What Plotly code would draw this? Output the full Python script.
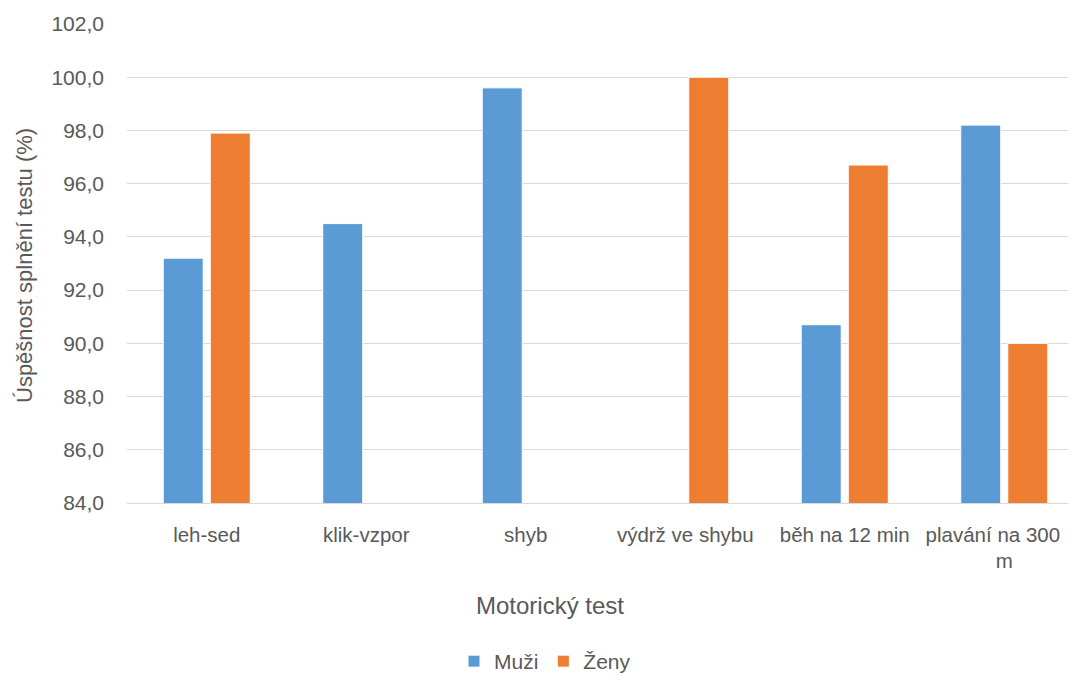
import plotly.graph_objects as go

categories = ["leh-sed", "klik-vzpor", "shyb", "výdrž ve shybu", "běh na 12 min", "plavání na 300 m"]
# display labels wrapped as in the reference (last one nudged inside the picture edge)
tick_labels = ["leh-sed", "klik-vzpor", "shyb", "výdrž ve shybu", "běh na 12 min",
               "plavání na 300" + "\u00a0" * 4 + "<br>m"]
muzi = [93.2, 94.5, 99.6, None, 90.7, 98.2]
zeny = [97.9, None, None, 100.0, 96.7, 90.0]
y_ticks = [84, 86, 88, 90, 92, 94, 96, 98, 100, 102]

FONT = "Liberation Sans"
TXT = "#595959"

# page body has an 8px margin; figure is sized so it ends at the viewport edge
OFF = 8
W, H = 1076 - OFF, 682 - OFF
L, R, T, B = 127 - OFF, 0, 24 - OFF, 179
PW, PH = W - L - R, H - T - B

# the reference plot area runs past the right edge of the picture
CAT_W = 159.5
x_right = -0.5 + PW / CAT_W

def px_x(x):
    return (x - OFF - L) / PW

def px_y(y):
    return (T + PH - (y - OFF)) / PH

fig = go.Figure()
fig.add_trace(go.Bar(name="Muži", x=categories, y=muzi,
                     marker=dict(color="#5B9BD5", line=dict(color="white", width=1))))
fig.add_trace(go.Bar(name="Ženy", x=categories, y=zeny,
                     marker=dict(color="#ED7D31", line=dict(color="white", width=1))))

fig.update_layout(
    width=W, height=H,
    paper_bgcolor="white", plot_bgcolor="white",
    margin=dict(l=L, r=R, t=T, b=B, autoexpand=False),
    barmode="group", bargap=0.41, bargroupgap=0.15,
    separators=", ",
    font=dict(family=FONT, size=20.5, color=TXT),
    showlegend=True,
    legend=dict(orientation="h", x=(545 - OFF) / W, xanchor="center", xref="container",
                y=-0.015, yanchor="bottom", yref="container",
                font=dict(size=21, color=TXT), itemwidth=30),
    xaxis=dict(
        automargin=False, range=[-0.5, x_right],
        tickmode="array", tickvals=categories, ticktext=tick_labels, tickangle=0,
        tickfont=dict(size=20.5, color=TXT), showgrid=False,
        showline=True, linecolor="#d9d9d9", linewidth=1, ticks="",
        ticklabelstandoff=13,
    ),
    yaxis=dict(
        automargin=False,
        range=[84, 102], tickvals=y_ticks, tickformat=".1f",
        tickfont=dict(size=21, color=TXT),
        showgrid=True, gridcolor="#d9d9d9", gridwidth=1, zeroline=False,
        showline=False, ticks="", ticklabelstandoff=22,
    ),
    annotations=[
        dict(text="Motorický test", xref="paper", yref="paper",
             x=px_x(550), y=px_y(605), xanchor="center", yanchor="middle",
             showarrow=False, font=dict(size=24, color=TXT)),
        dict(text="Úspěšnost splnění testu (%)", xref="paper", yref="paper",
             x=px_x(24), y=px_y(266), xanchor="center", yanchor="middle",
             textangle=-90, showarrow=False, font=dict(size=22, color=TXT)),
    ],
)

fig.write_html("out.html")
